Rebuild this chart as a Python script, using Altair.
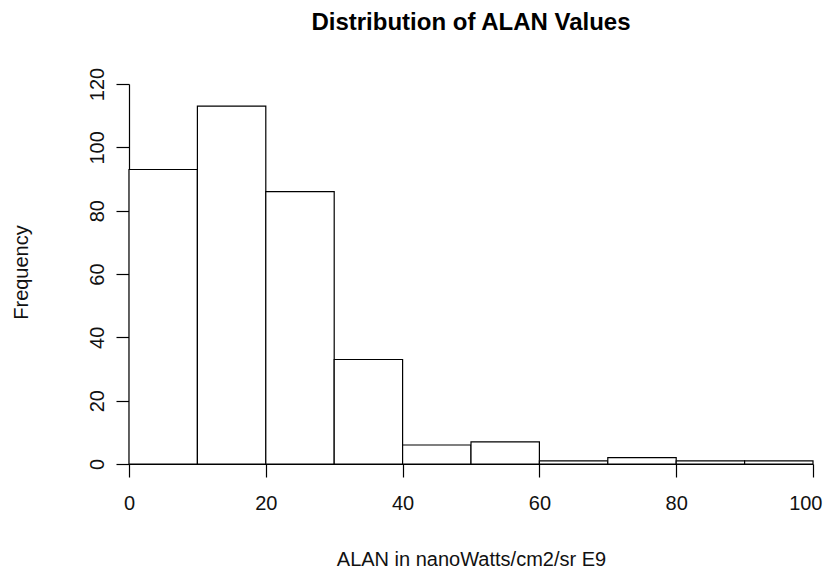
import altair as alt
import pandas as pd

bin_start = [0, 10, 20, 30, 40, 50, 60, 70, 80, 90]
bin_end = [10, 20, 30, 40, 50, 60, 70, 80, 90, 100]
counts = [93, 113, 86, 33, 6, 7, 1, 2, 1, 1]
x_ticks = [0, 20, 40, 60, 80, 100]
y_ticks = [0, 20, 40, 60, 80, 100, 120]

df = pd.DataFrame({"start": bin_start, "end": bin_end, "count": counts})

FONT = "Liberation Sans"

chart = alt.Chart(df).mark_rect(
    fill="white", stroke="black", strokeWidth=1.2
).encode(
    x=alt.X(
        "start:Q",
        scale=alt.Scale(domain=[0, 100], nice=False, zero=False),
        axis=alt.Axis(
            values=x_ticks,
            title="ALAN in nanoWatts/cm2/sr E9",
            grid=False,
            tickSize=13,
            tickColor="black",
            tickWidth=1.2,
            domainColor="black",
            domainWidth=1.2,
            labelFont=FONT,
            labelFontSize=20,
            labelColor="#111",
            labelBaseline="alphabetic",
            labelPadding=32,
            labelFlush=False,
            labelAlign={"condition": {"test": "datum.value == 100", "value": "right"}, "value": "center"},
            labelOffset={"condition": {"test": "datum.value == 100", "value": 9}, "value": 0},
            titleFont=FONT,
            titleFontSize=20,
            titleFontWeight="normal",
            titleColor="#111",
            titleBaseline="alphabetic",
            titleY=101,
            titleX=342,
        ),
    ),
    x2="end:Q",
    y=alt.Y(
        "count:Q",
        scale=alt.Scale(domain=[0, 120], nice=False),
        axis=alt.Axis(
            values=y_ticks,
            title="Frequency",
            grid=False,
            tickSize=13,
            tickColor="black",
            tickWidth=1.2,
            domainColor="black",
            domainWidth=1.2,
            labelFont=FONT,
            labelFontSize=20,
            labelColor="#111",
            labelAngle=270,
            labelAlign="center",
            labelBaseline="alphabetic",
            labelPadding=13,
            labelFlush=False,
            titleFont=FONT,
            titleFontSize=20,
            titleFontWeight="normal",
            titleColor="#111",
            titleAngle=270,
            titleAlign="center",
            titleBaseline="alphabetic",
            titleX=-102,
            titleY=188,
        ),
    ),
    y2=alt.datum(0),
).properties(
    width=684,
    height=380,
    background="white",
    title=alt.TitleParams(
        "Distribution of ALAN Values",
        font=FONT,
        fontSize=24,
        fontWeight="bold",
        color="#000",
        anchor="middle",
        frame="group",
        baseline="alphabetic",
        offset=13,
    ),
    autosize=alt.AutoSizeParams(type="none"),
    padding={"left": 121, "top": 76, "right": 10, "bottom": 104},
).configure_view(stroke="transparent", strokeWidth=0)

chart.save("out.html", embed_options={"renderer": "svg", "actions": False})
